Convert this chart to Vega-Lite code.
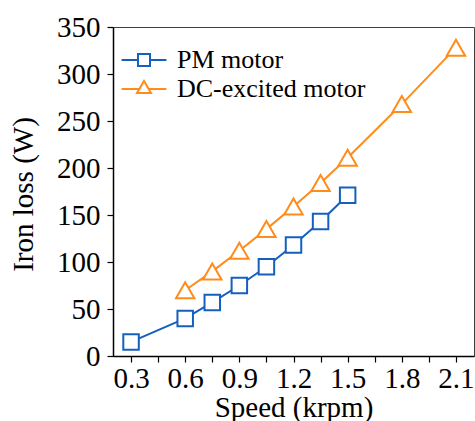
{
  "$schema": "https://vega.github.io/schema/vega-lite/v6.json",
  "width": 361,
  "height": 329,
  "autosize": "none",
  "padding": {"left": 113, "top": 27, "right": 1, "bottom": 65},
  "config": {
    "font": "Liberation Serif",
    "view": {"stroke": "#404040", "strokeWidth": 1},
    "axis": {
      "grid": false,
      "domainColor": "black",
      "domainWidth": 1.5,
      "tickColor": "black",
      "tickWidth": 1.2,
      "tickSize": 6
    },
    "legend": {
      "orient": "none",
      "legendX": 16,
      "legendY": 18,
      "padding": 0,
      "symbolSize": 784,
      "symbolStrokeWidth": 2,
      "labelFontSize": 26,
      "labelFont": "Liberation Serif",
      "labelColor": "black",
      "labelOffset": 18,
      "labelLimit": 0,
      "rowPadding": 1
    }
  },
  "data": {
    "values": [
      {"speed": 0.3, "loss": 15, "motor": "PM motor"},
      {"speed": 0.6, "loss": 40, "motor": "PM motor"},
      {"speed": 0.75, "loss": 57, "motor": "PM motor"},
      {"speed": 0.9, "loss": 75, "motor": "PM motor"},
      {"speed": 1.05, "loss": 95, "motor": "PM motor"},
      {"speed": 1.2, "loss": 118, "motor": "PM motor"},
      {"speed": 1.35, "loss": 143, "motor": "PM motor"},
      {"speed": 1.5, "loss": 171, "motor": "PM motor"},
      {"speed": 0.6, "loss": 70, "motor": "DC-excited motor"},
      {"speed": 0.75, "loss": 90, "motor": "DC-excited motor"},
      {"speed": 0.9, "loss": 112, "motor": "DC-excited motor"},
      {"speed": 1.05, "loss": 135, "motor": "DC-excited motor"},
      {"speed": 1.2, "loss": 159, "motor": "DC-excited motor"},
      {"speed": 1.35, "loss": 184, "motor": "DC-excited motor"},
      {"speed": 1.5, "loss": 211, "motor": "DC-excited motor"},
      {"speed": 1.8, "loss": 268, "motor": "DC-excited motor"},
      {"speed": 2.1, "loss": 328, "motor": "DC-excited motor"}
    ]
  },
  "encoding": {
    "x": {
      "field": "speed",
      "type": "quantitative",
      "scale": {"domain": [0.2, 2.2], "nice": false, "zero": false},
      "axis": {
        "title": "Speed (krpm)",
        "values": [0.3, 0.45, 0.6, 0.75, 0.9, 1.05, 1.2, 1.35, 1.5, 1.65, 1.8, 1.95, 2.1],
        "labelExpr": "abs(round(datum.value * 100) % 30) < 1 ? format(datum.value, '.1f') : ''",
        "labelFont": "Liberation Serif",
        "labelFontSize": 29,
        "labelColor": "black",
        "labelBaseline": "alphabetic",
        "labelPadding": 25,
        "titleFont": "Liberation Serif",
        "titleFontSize": 29,
        "titleFontWeight": "normal",
        "titleColor": "black",
        "titleBaseline": "alphabetic",
        "titleY": 60
      }
    },
    "y": {
      "field": "loss",
      "type": "quantitative",
      "scale": {"domain": [0, 350], "nice": false},
      "axis": {
        "title": "Iron loss (W)",
        "values": [0, 50, 100, 150, 200, 250, 300, 350],
        "labelFont": "Liberation Serif",
        "labelFontSize": 29,
        "labelColor": "black",
        "labelPadding": 7,
        "titleFont": "Liberation Serif",
        "titleFontSize": 29,
        "titleFontWeight": "normal",
        "titleColor": "black",
        "titleX": -75,
        "titleY": 167
      }
    },
    "color": {
      "field": "motor",
      "type": "nominal",
      "scale": {"domain": ["PM motor", "DC-excited motor"], "range": ["#1560BD", "#FF8C1A"]},
      "legend": {"title": null}
    }
  },
  "layer": [
    {"mark": {"type": "line", "strokeWidth": 2}},
    {
      "mark": {"type": "point", "filled": false, "fill": "white", "strokeWidth": 2, "opacity": 1},
      "encoding": {
        "shape": {
          "condition": {"test": "datum.motor === 'PM motor'", "value": "square"},
          "value": "triangle-up"
        },
        "size": {
          "condition": {"test": "datum.motor === 'PM motor'", "value": 240},
          "value": 340
        }
      }
    },
    {
      "transform": [{"filter": "false"}],
      "mark": {"type": "point", "filled": false, "strokeWidth": 2, "opacity": 1},
      "encoding": {
        "shape": {
          "field": "motor",
          "type": "nominal",
          "scale": {
            "domain": ["PM motor", "DC-excited motor"],
            "range": [
              "M-1.6,0H-0.43M0.43,0H1.6M-0.43,-0.43H0.43V0.43H-0.43Z",
              "M-1.6,0H-0.33M0.33,0H1.6M0,-0.57L0.5,0.29H-0.5Z"
            ]
          },
          "legend": {"title": null}
        }
      }
    }
  ]
}
